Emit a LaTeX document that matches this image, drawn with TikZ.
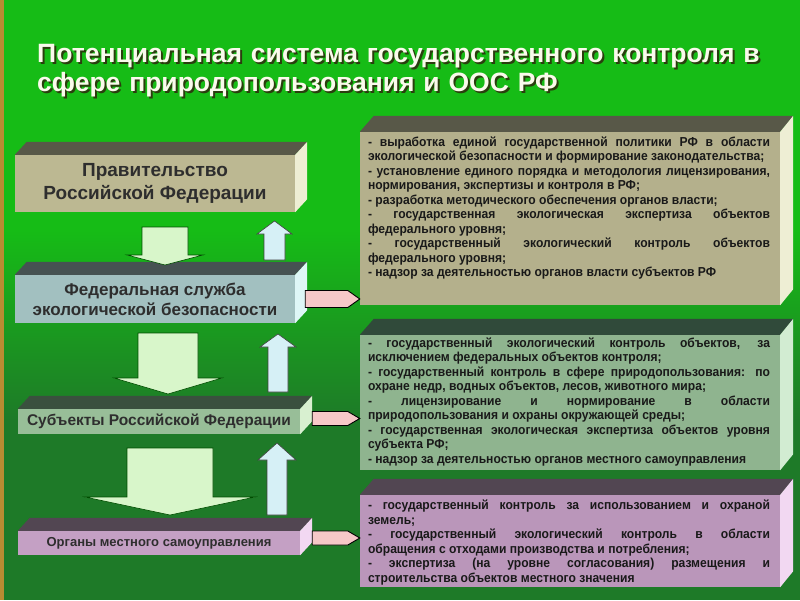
\documentclass[tikz,border=0pt]{standalone}
\usepackage{fontspec}
\setmainfont{Liberation Sans}
\newfontfamily\narrowfont[FakeStretch=0.93]{Liberation Sans}
\usetikzlibrary{positioning,calc}
\hyphenpenalty=10000
\tolerance=10000

\definecolor{bgtop}{RGB}{22,188,22}
\definecolor{bgbottom}{RGB}{30,122,40}
\definecolor{frame}{RGB}{184,140,50}
\definecolor{govfront}{RGB}{188,184,146}
\definecolor{govtop}{RGB}{88,88,72}
\definecolor{govside}{RGB}{238,238,212}
\definecolor{fedfront}{RGB}{162,192,192}
\definecolor{fedtop}{RGB}{70,82,82}
\definecolor{fedside}{RGB}{222,246,246}
\definecolor{subfront}{RGB}{152,190,152}
\definecolor{subtop}{RGB}{58,80,62}
\definecolor{subside}{RGB}{216,240,208}
\definecolor{locfront}{RGB}{196,160,196}
\definecolor{loctop}{RGB}{82,70,82}
\definecolor{locside}{RGB}{242,216,242}
\definecolor{afront}{RGB}{180,176,140}
\definecolor{bfront}{RGB}{143,180,143}
\definecolor{btop}{RGB}{48,74,58}
\definecolor{bside}{RGB}{210,236,210}
\definecolor{cfront}{RGB}{186,150,186}
\definecolor{downfill}{RGB}{216,246,202}
\definecolor{upfill}{RGB}{214,240,246}
\definecolor{pinkfill}{RGB}{246,200,200}
\definecolor{titlecol}{RGB}{250,250,236}
\definecolor{titleshadow}{RGB}{42,62,14}

\begin{document}
\begin{tikzpicture}[x=1pt,y=-1pt,
    title/.style={inner sep=0pt, anchor=base west, text width=750pt, align=left,
      font=\fontsize{26.5}{29.5}\selectfont\bfseries},
    front/.style={inner sep=0pt, text=black!82, align=center},
    panel/.style={inner sep=0pt, minimum width=420pt},
    items/.style={inner sep=0pt, anchor=base west, text width=402pt, align=justify,
      font=\narrowfont\fontsize{13}{14.5}\selectfont\bfseries, text=black!90},
    downarr/.style={fill=downfill, draw=black!70!green, line width=0.6pt},
    uparr/.style={fill=upfill, draw=black!75, line width=0.6pt},
    pinkarr/.style={fill=pinkfill, draw=black, line width=0.9pt}]
  \useasboundingbox (0,0) rectangle (800,600);

  % background
  \fill[bgbottom] (0,0) rectangle (800,600);
  \fill[bgtop] (0,0) rectangle (800,230);
  \shade[top color=bgtop, bottom color=bgbottom] (0,230) rectangle (800,420);
  \fill[frame] (0,0) rectangle (4,600);

  % title
  \node[title, text=titleshadow] (tshadow) at (39,64)
    {Потенциальная система государственного контроля в\\сфере природопользования и ООС РФ};
  \node[title, text=titlecol] (title) at (37,62)
    {Потенциальная система государственного контроля в\\сфере природопользования и ООС РФ};

  % levels of control
  \node[front, fill=govfront, minimum width=280pt, minimum height=57pt,
    font=\fontsize{19}{23}\selectfont\bfseries] (gov) at (155,183.5)
    {Правительство\\Российской Федерации};
  \node[front, fill=fedfront, minimum width=280pt, minimum height=48pt,
    font=\fontsize{17}{20}\selectfont\bfseries] (fed) at (155,299)
    {Федеральная служба\\экологической безопасности};
  \node[front, fill=subfront, minimum width=282pt, minimum height=25pt,
    font=\fontsize{15.5}{18}\selectfont\bfseries] (sub) at (159,421.5)
    {Субъекты Российской Федерации};
  \node[front, fill=locfront, minimum width=282pt, minimum height=24pt,
    font=\fontsize{13}{16}\selectfont\bfseries] (loc) at (159,543)
    {Органы местного самоуправления};

  \foreach \n/\t/\s in {gov/govtop/govside, fed/fedtop/fedside, sub/subtop/subside, loc/loctop/locside}{
    \fill[\t] (\n.north west) -- ++(12,-13) -- ([shift={(12,-13)}]\n.north east) -- (\n.north east) -- cycle;
    \fill[\s] (\n.north east) -- ++(12,-13) -- ([shift={(12,-13)}]\n.south east) -- (\n.south east) -- cycle;
  }

  % powers
  \node[panel, fill=afront, minimum height=173pt] (boxa) at (570,218.5) {};
  \node[panel, fill=bfront, minimum height=135pt] (boxb) at (570,402.5) {};
  \node[panel, fill=cfront, minimum height=92pt] (boxc) at (570,541) {};

  \foreach \n/\t/\s in {boxa/govtop/govside, boxb/btop/bside, boxc/loctop/locside}{
    \fill[\t] (\n.north west) -- ++(14,-16) -- ([shift={(13,-16)}]\n.north east) -- (\n.north east) -- cycle;
    \fill[\s] (\n.north east) -- ++(13,-16) -- ([shift={(13,-16)}]\n.south east) -- (\n.south east) -- cycle;
  }

  \node[items] (itemsa) at ([shift={(8,14.5)}]boxa.north west)
    {- выработка единой государственной политики РФ в области\linebreak
     экологической безопасности и формирование законодательства;\par
     - установление единого порядка и методология лицензирования,\linebreak
     нормирования, экспертизы и контроля в РФ;\par
     - разработка методического обеспечения органов власти;\par
     - государственная экологическая экспертиза объектов\linebreak
     федерального уровня;\par
     - государственный экологический контроль объектов\linebreak
     федерального уровня;\par
     - надзор за деятельностью органов власти субъектов РФ};
  \node[items] (itemsb) at ([shift={(8,12.5)}]boxb.north west)
    {- государственный экологический контроль объектов, за\linebreak
     исключением федеральных объектов контроля;\par
     - государственный контроль в сфере природопользования: по\linebreak
     охране недр, водных объектов, лесов, животного мира;\par
     - лицензирование и нормирование в области\linebreak
     природопользования и охраны окружающей среды;\par
     - государственная экологическая экспертиза объектов уровня\linebreak
     субъекта РФ;\par
     - надзор за деятельностью органов местного самоуправления};
  \node[items] (itemsc) at ([shift={(8,15)}]boxc.north west)
    {- государственный контроль за использованием и охраной\linebreak
     земель;\par
     - государственный экологический контроль в области\linebreak
     обращения с отходами производства и потребления;\par
     - экспертиза (на уровне согласования) размещения и\linebreak
     строительства объектов местного значения};

  % down and up arrows
  \filldraw[downarr] (142,227) -- (188,227) -- (188,255) -- (203,255) -- (165,265) -- (127,255) -- (142,255) -- cycle;
  \filldraw[downarr] (138,333) -- (198,333) -- (198,378) -- (222,378) -- (168,394) -- (114,378) -- (138,378) -- cycle;
  \filldraw[downarr] (127,448) -- (213,448) -- (213,497) -- (255,497) -- (170,515) -- (85,497) -- (127,497) -- cycle;
  \filldraw[uparr] (264,260) -- (285,260) -- (285,234) -- (292,234) -- (274.5,221) -- (257,234) -- (264,234) -- cycle;
  \filldraw[uparr] (268,392) -- (288,392) -- (288,347) -- (296,347) -- (278,334) -- (260,347) -- (268,347) -- cycle;
  \filldraw[uparr] (267,515) -- (287,515) -- (287,460) -- (296,460) -- (277,443) -- (258,460) -- (267,460) -- cycle;

  % links to the powers
  \coordinate (pa) at ($(fed.east)+(10,0)$);
  \coordinate (pb) at ($(sub.east)+(12,-3)$);
  \coordinate (pc) at ($(loc.east)+(12,-5)$);
  \draw[pinkarr] ($(pa)+(0,-8.5)$) -- ($(pa -| boxa.west)+(-12,-8.5)$) -- (pa -| boxa.west)
    -- ($(pa -| boxa.west)+(-12,8.5)$) -- ($(pa)+(0,8.5)$) -- cycle;
  \draw[pinkarr] ($(pb)+(0,-7)$) -- ($(pb -| boxb.west)+(-12,-7)$) -- (pb -| boxb.west)
    -- ($(pb -| boxb.west)+(-12,7)$) -- ($(pb)+(0,7)$) -- cycle;
  \draw[pinkarr] ($(pc)+(0,-7)$) -- ($(pc -| boxc.west)+(-12,-7)$) -- (pc -| boxc.west)
    -- ($(pc -| boxc.west)+(-12,7)$) -- ($(pc)+(0,7)$) -- cycle;
\end{tikzpicture}
\end{document}
